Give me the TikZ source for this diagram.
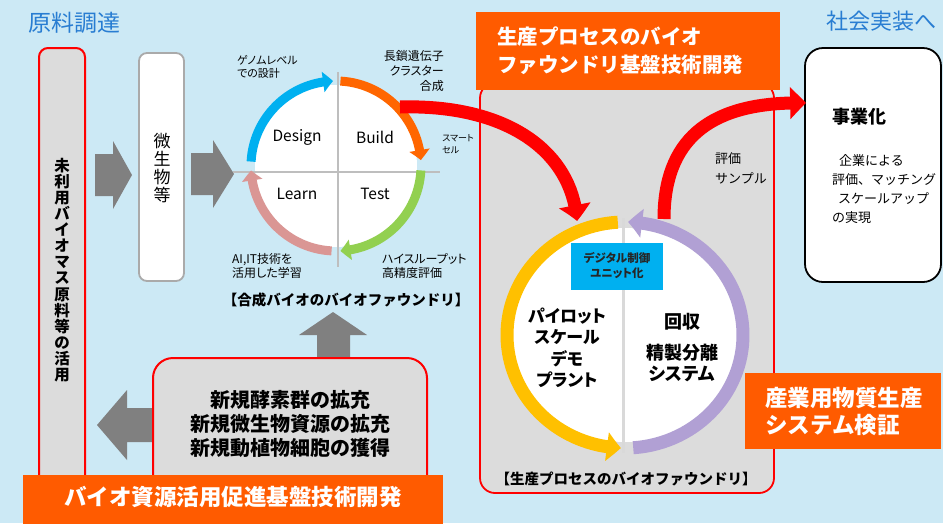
\documentclass[tikz,border=0pt]{standalone}
\usepackage{fontspec}
\setmainfont{Noto Sans CJK JP}
\newfontfamily\pj{Noto Sans CJK JP}[RawFeature=+palt]
\usetikzlibrary{arrows.meta,bending,calc,shapes.geometric}
\definecolor{bgblue}{RGB}{204,233,245}
\definecolor{titleblue}{RGB}{40,125,210}
\definecolor{orangeB}{RGB}{255,91,0}
\definecolor{boxgray}{RGB}{220,220,220}
\definecolor{edgegray}{RGB}{170,170,170}
\definecolor{blockgray}{RGB}{128,128,128}
\definecolor{linegray}{RGB}{190,190,190}
\definecolor{cyanA}{RGB}{0,176,240}
\definecolor{orangeArc}{RGB}{255,102,0}
\definecolor{greenArc}{RGB}{146,208,80}
\definecolor{pinkArc}{RGB}{218,150,148}
\definecolor{yellowArc}{RGB}{255,192,0}
\definecolor{purpleArc}{RGB}{177,160,212}
\definecolor{redA}{RGB}{255,0,0}
\newcommand\fsz[2]{\fontsize{#1}{#2}\selectfont}
\begin{document}
\begin{tikzpicture}[x=1pt,y=-1pt,
  txt/.style={inner sep=0pt, align=center},
  ltxt/.style={inner sep=0pt, align=left, anchor=west},
  blk/.style={fill=blockgray, draw=none},
  cyc/.style={line width=9pt, -{Triangle[width=20pt,length=10pt,bend]}},
  pcyc/.style={line width=13pt, -{Triangle[width=28pt,length=14pt,bend]}},
  redarrow/.style={draw=redA, line width=13pt, -{Triangle[width=31pt,length=16pt,bend]}},
  orangebox/.style={fill=orangeB, draw=none, inner sep=0pt},
  redbox/.style={draw=redA, line width=2pt, fill=boxgray, inner sep=0pt}]

\fill[bgblue] (0,0) rectangle (943,523);
\useasboundingbox (0,0) rectangle (943,523);

% titles
\node[txt, text=titleblue, font=\fsz{23}{26}] (t1) at (74,23) {原料調達};
\node[txt, text=titleblue, font=\fsz{22}{26}] (t2) at (881,21) {社会実装へ};

% left tall box
\node[redbox, rounded corners=9pt, minimum width=46pt, minimum height=460pt] (lbox) at (62,278) {};
\node[txt, font=\bfseries\fsz{15.5}{16.1}] (ltext) at (62,270) {未\\利\\用\\バ\\イ\\オ\\マ\\ス\\原\\料\\等\\の\\活\\用};

% microbe box
\node[draw=edgegray, line width=1.8pt, fill=white, rounded corners=8pt, minimum width=45pt, minimum height=228pt, inner sep=0pt] (mbox) at (161.5,167) {};
\node[txt, font=\fsz{17}{18}] (mtext) at (162,168) {微\\生\\物\\等};

% gray block arrows
\fill[blk] (95,154) -- (113,154) -- (113,141) -- (132,175) -- (113,209) -- (113,196) -- (95,196) -- cycle;
\fill[blk] (191,153) -- (213,153) -- (213,140) -- (234,174) -- (213,208) -- (213,195) -- (191,195) -- cycle;
\fill[blk] (155,408) -- (127,408) -- (127,390) -- (97,425) -- (127,460) -- (127,442) -- (155,442) -- cycle;
\fill[blk] (317,360) -- (317,335) -- (299,335) -- (333,312) -- (367,335) -- (350,335) -- (350,360) -- cycle;

% DBTL cycle
\node[circle, fill=white, minimum size=162pt, inner sep=0pt] (c1) at (336,166) {};
\draw[linegray, line width=2pt] (338,72) -- (338,267);
\draw[linegray, line width=2pt] (233,172) -- (440,172);
\draw[cyc, cyanA] ($(c1)+(183:85)$) arc[start angle=183, end angle=268, radius=85];
\draw[cyc, orangeArc] ($(c1)+(273:85)$) arc[start angle=273, end angle=356, radius=85];
\draw[cyc, greenArc] ($(c1)+(3:85)$) arc[start angle=3, end angle=87, radius=85];
\draw[cyc, pinkArc] ($(c1)+(93:85)$) arc[start angle=93, end angle=177, radius=85];
\node[txt, font=\fsz{15.5}{18}] (design) at (297,137) {Design};
\node[txt, font=\fsz{15.5}{18}] (build) at (375,137) {Build};
\node[txt, font=\fsz{15.5}{18}] (learn) at (297,194) {Learn};
\node[txt, font=\fsz{15.5}{18}] (test) at (375,194) {Test};

\node[ltxt, font=\pj\fsz{11}{13}] (l1) at (237,67) {ゲノムレベル\\での設計};
\node[inner sep=0pt, align=right, anchor=east, font=\pj\fsz{12}{15}] (l2) at (444,71) {長鎖遺伝子\\クラスター\\合成};
\node[ltxt, font=\pj\fsz{9}{12}] (l3) at (442,144) {スマート\\セル};
\node[ltxt, font=\pj\fsz{12}{14}] (l4) at (382,266) {ハイスループット\\高精度評価};
\node[ltxt, font=\pj\fsz{12}{14}] (l5) at (232,266) {AI,IT技術を\\活用した学習};
\node[txt, font=\bfseries\fsz{14.5}{17}] (l6) at (346,300) {【合成バイオのバイオファウンドリ】};

% new resources box
\node[redbox, rounded corners=20pt, minimum width=274pt, minimum height=150pt] (nbox) at (290,433) {};
\node[txt, font=\bfseries\fsz{20}{24}] (ntext) at (290,424) {新規酵素群の拡充\\新規微生物資源の拡充\\新規動植物細胞の獲得};

% bottom orange bar
\node[orangebox, minimum width=420pt, minimum height=50pt] (bbar) at (233,500) {};
\node[txt, text=white, font=\bfseries\fsz{22.5}{26}] (btext) at (233,497) {バイオ資源活用促進基盤技術開発};

% process box
\node[draw=redA, line width=1.8pt, fill=boxgray, rounded corners=15pt, minimum width=294pt, minimum height=410pt, inner sep=0pt] (pbox) at (627,288) {};
\node[orangebox, minimum width=304pt, minimum height=78pt] (phead) at (628,51) {};
\node[ltxt, text=white, font=\bfseries\fsz{20.5}{28}] (ptext) at (497,51) {生産プロセスのバイオ\\ファウンドリ基盤技術開発};

% process cycle
\node[ellipse, fill=white, minimum width=224pt, minimum height=214pt, inner sep=0pt] (c2) at (625,335) {};
\draw[white!85!black, line width=3pt] (623,218) -- (623,453);
\draw[pcyc, yellowArc] ($(c2)+(266.5:118 and 113)$) arc[start angle=266.5, end angle=92, x radius=118, y radius=113];
\draw[pcyc, purpleArc] ($(c2)+(86:118 and 113)$) arc[start angle=86, end angle=-88.5, x radius=118, y radius=113];
\node[fill=cyanA, minimum width=92pt, minimum height=47pt, inner sep=0pt] (dbox) at (617,266.5) {};
\node[txt, text=black!85, font=\bfseries\pj\fsz{11.5}{15}] (dtext) at (617,266) {デジタル制御\\ユニット化};
\node[txt, font=\bfseries\pj\fsz{17}{21.5}] (pilot) at (567,348) {パイロット\\スケール\\デモ\\プラント};
\node[txt, font=\bfseries\fsz{18}{21}] (recov) at (682,322) {回収};
\node[txt, font=\bfseries\pj\fsz{18}{20.5}] (purif) at (682,363) {精製分離\\システム};
\node[txt, font=\bfseries\fsz{14.5}{17}] (plabel) at (626,479) {【生産プロセスのバイオファウンドリ】};

% business box
\node[draw=black, line width=1.8pt, fill=white, rounded corners=18pt, minimum width=136pt, minimum height=234pt, inner sep=0pt] (bizbox) at (873,165) {};
\node[ltxt, font=\bfseries\fsz{18}{20}] (biz) at (832,117) {事業化};
\node[ltxt, font=\fsz{13}{19}] (biztext) at (832,189) {\hspace{7pt}企業による\\評価、マッチング\\\hspace{6pt}スケールアップ\\の実現};

% system verification box
\node[orangebox, minimum width=196pt, minimum height=76pt] (sysbox) at (843,411) {};
\node[ltxt, text=white, font=\bfseries\fsz{22.5}{27}] (systext) at (765,411) {産業用物質生産\\システム検証};

% red arrows
\coordinate (ra1) at (400,107);
\coordinate (ra2) at (577,221);
\draw[redarrow] (ra1) .. controls (505,104) and (572,150) .. (ra2);
\coordinate (rb1) at (664,219);
\coordinate (rb2) at (806,103);
\draw[redarrow] (rb1) .. controls (664,135) and (715,101) .. (rb2);
\node[ltxt, font=\fsz{13}{20}] (sample) at (715,168) {評価\\サンプル};
\end{tikzpicture}
\end{document}
